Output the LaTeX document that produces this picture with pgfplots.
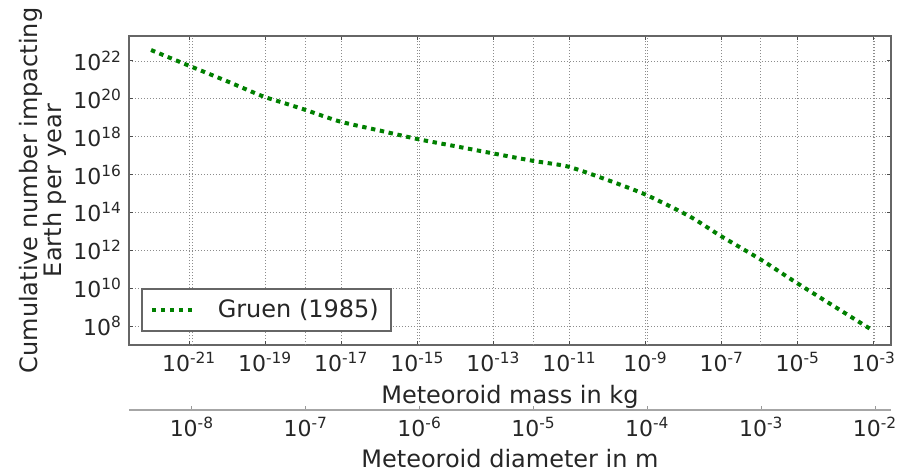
\documentclass[border=0pt]{standalone}
\usepackage{fontspec}
\setmainfont{DejaVu Sans}
\usepackage{pgfplots}
\pgfplotsset{compat=1.18}
\definecolor{mplg}{rgb}{0,0.5,0}
\begin{document}
\begin{tikzpicture}
\useasboundingbox (-64.5pt,-64pt) rectangle (386pt,172.5pt);
\begin{axis}[name=main, at={(0pt,0pt)}, anchor=south west,
  scale only axis, width=381pt, height=154.5pt,
  xmode=log, ymode=log,
  xmin=2.63e-23, xmax=2.82e-3, ymin=1e7, ymax=2.09e23,
  xtick={1e-21,1e-19,1e-17,1e-15,1e-13,1e-11,1e-9,1e-7,1e-5,1e-3},
  xticklabels={10\textsuperscript{-21},10\textsuperscript{-19},10\textsuperscript{-17},10\textsuperscript{-15},10\textsuperscript{-13},10\textsuperscript{-11},10\textsuperscript{-9},10\textsuperscript{-7},10\textsuperscript{-5},10\textsuperscript{-3}},
  ytick={1e8,1e10,1e12,1e14,1e16,1e18,1e20,1e22},
  yticklabels={10\textsuperscript{8},10\textsuperscript{10},10\textsuperscript{12},10\textsuperscript{14},10\textsuperscript{16},10\textsuperscript{18},10\textsuperscript{20},10\textsuperscript{22}},
  extra x ticks={1.19e-21,1.17e-18,1.15e-15,1.12e-12,1.10e-9,1.07e-6,1.05e-3},
  extra x tick labels={},
  extra x tick style={grid=major, major tick length=0pt},
  xminorticks=false, yminorticks=false,
  grid=major,
  grid style={black!45, line width=0.4pt, dash pattern=on 0.6pt off 0.9pt},
  axis line style={black!60, line width=0.8pt},
  tick align=inside, major tick length=2pt, tick style={black!70, line width=0.5pt},
  ticklabel style={font=\fontsize{11}{13}\selectfont, text=black!85},
  label style={font=\fontsize{12}{12}\selectfont, text=black!85},
  xlabel={Meteoroid mass in kg},
  xlabel style={at={(axis description cs:0.5,0)}, anchor=base, yshift=-29pt, inner sep=0pt},
  ylabel={Cumulative number impacting\\Earth per year},
  ylabel style={at={(axis description cs:-0.0814,0.5)}, anchor=south, align=center, inner sep=0pt},
  legend style={at={(axis description cs:0.01575,0.042)}, anchor=south west,
    draw=black!60, line width=0.8pt, font=\fontsize{12}{14}\selectfont, text=black!85,
    inner xsep=4pt, inner ysep=3.3pt},
  legend image code/.code={\draw[#1] (0pt,0pt) -- (21.5pt,0pt); \path (30pt,0pt);},
]
\addplot[mplg, line width=2pt, dash pattern=on 2.2pt off 2.3pt, smooth, tension=0.4] coordinates {
  (1e-22,3.80e22)
  (8.91e-22,6.17e21)
  (1e-20,8.5e20)
  (8.32e-20,1.41e20)
  (3.16e-19,6.0e19)
  (1.17e-18,2.57e19)
  (9.33e-18,6.31e18)
  (1e-16,2.14e18)
  (1.05e-15,7.41e17)
  (1e-14,3.16e17)
  (9.12e-14,1.35e17)
  (1.15e-12,5.25e16)
  (8.51e-12,2.75e16)
  (6.31e-11,7.24e15)
  (9.55e-10,9.12e14)
  (1.45e-8,6.17e13)
  (8.91e-8,6.17e12)
  (1.15e-6,2.95e11)
  (8.91e-6,2.04e10)
  (7.76e-4,7.41e7)
};
\addlegendentry{Gruen (1985)}
\end{axis}
\begin{axis}[at={(0pt,-32.5pt)}, anchor=south west,
  scale only axis, width=381pt, height=1pt,
  xmode=log, xmin=2.80e-9, xmax=1.38e-2, ymin=0, ymax=1,
  hide y axis, axis x line*=bottom,
  axis line style={black!35, line width=0.8pt, -},
  xtick={1e-8,1e-7,1e-6,1e-5,1e-4,1e-3,1e-2},
  xticklabels={10\textsuperscript{-8},10\textsuperscript{-7},10\textsuperscript{-6},10\textsuperscript{-5},10\textsuperscript{-4},10\textsuperscript{-3},10\textsuperscript{-2}},
  xminorticks=false,
  tick align=inside, major tick length=2pt, tick style={black!40, line width=0.5pt},
  ticklabel style={font=\fontsize{11}{13}\selectfont, text=black!85},
  label style={font=\fontsize{12}{12}\selectfont, text=black!85},
  xlabel={Meteoroid diameter in m},
  xlabel style={at={(axis description cs:0.5,0)}, anchor=base, yshift=-28.5pt, inner sep=0pt},
]
\end{axis}
\end{tikzpicture}
\end{document}
